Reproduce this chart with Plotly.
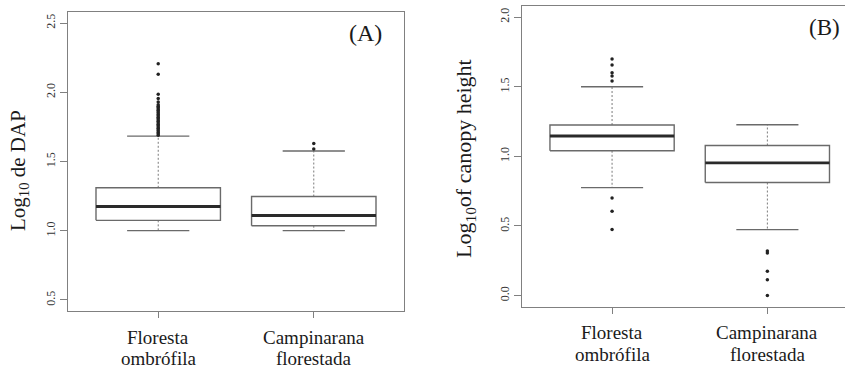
import plotly.graph_objects as go

W, H = 845, 371

# ---------------- data ----------------
cat_line1 = ["Floresta", "Campinarana"]
cat_line2 = ["ombrófila", "florestada"]
positions = [1, 2]

# Panel A: Log10 de DAP
dap_q1 = [1.075, 1.036]
dap_med = [1.175, 1.110]
dap_q3 = [1.310, 1.247]
dap_lo = [1.000, 1.000]
dap_hi = [1.683, 1.576]
dap_out_flor = [1.69, 1.70, 1.71, 1.72, 1.73, 1.74, 1.75, 1.76, 1.77, 1.78, 1.79,
                1.80, 1.81, 1.82, 1.83, 1.84, 1.85, 1.86, 1.87, 1.88, 1.89, 1.90,
                1.91, 1.93, 1.955, 1.985, 2.13, 2.207]
dap_out_camp = [1.59, 1.63]
dap_ticks = [0.5, 1.0, 1.5, 2.0, 2.5]

# Panel B: Log10 of canopy height
can_q1 = [1.040, 0.812]
can_med = [1.146, 0.953]
can_q3 = [1.225, 1.078]
can_lo = [0.776, 0.473]
can_hi = [1.500, 1.227]
can_out_flor = [0.475, 0.605, 0.700, 1.542, 1.578, 1.600, 1.657, 1.700]
can_out_camp = [0.000, 0.113, 0.175, 0.305, 0.320]
can_ticks = [0.0, 0.5, 1.0, 1.5, 2.0]

# ---------------- style ----------------
FONT = "Liberation Serif"
BOXC = "#6a6a6a"
MEDC = "#2a2a2a"
WHC = "#7a7a7a"
FRAME = "#808080"
HALF_BOX = 0.4
HALF_CAP = 0.2

fig = go.Figure()


def add_panel(xa, ya, q1, med, q3, lo, hi, outs):
    for i, p in enumerate(positions):
        # whiskers (dashed)
        fig.add_trace(go.Scatter(x=[p, p, None, p, p], y=[q3[i], hi[i], None, q1[i], lo[i]],
                                 mode="lines", line=dict(color=WHC, width=1, dash="2px,2px"),
                                 xaxis=xa, yaxis=ya, hoverinfo="skip", showlegend=False))
        # caps
        fig.add_trace(go.Scatter(x=[p - HALF_CAP, p + HALF_CAP, None, p - HALF_CAP, p + HALF_CAP],
                                 y=[hi[i], hi[i], None, lo[i], lo[i]],
                                 mode="lines", line=dict(color=BOXC, width=1.3),
                                 xaxis=xa, yaxis=ya, hoverinfo="skip", showlegend=False))
        # box
        fig.add_trace(go.Scatter(x=[p - HALF_BOX, p + HALF_BOX, p + HALF_BOX, p - HALF_BOX, p - HALF_BOX],
                                 y=[q1[i], q1[i], q3[i], q3[i], q1[i]],
                                 mode="lines", line=dict(color=BOXC, width=1.4),
                                 fill="toself", fillcolor="white",
                                 xaxis=xa, yaxis=ya, hoverinfo="skip", showlegend=False))
        # median
        fig.add_trace(go.Scatter(x=[p - HALF_BOX, p + HALF_BOX], y=[med[i], med[i]],
                                 mode="lines", line=dict(color=MEDC, width=2.8),
                                 xaxis=xa, yaxis=ya, hoverinfo="skip", showlegend=False))
        # outliers
        fig.add_trace(go.Scatter(x=[p] * len(outs[i]), y=outs[i], mode="markers",
                                 marker=dict(color="#222222", size=3.5),
                                 xaxis=xa, yaxis=ya, hoverinfo="skip", showlegend=False))


add_panel("x", "y", dap_q1, dap_med, dap_q3, dap_lo, dap_hi, [dap_out_flor, dap_out_camp])
add_panel("x2", "y2", can_q1, can_med, can_q3, can_lo, can_hi, [can_out_flor, can_out_camp])


def px_x(v):
    return v / W


def px_y(v):
    return 1 - v / H


axis_common = dict(showgrid=False, zeroline=False, showline=True, linecolor=FRAME, linewidth=1.2,
                   ticks="outside", tickcolor=FRAME, tickwidth=1)

fig.update_layout(
    width=W, height=H, margin=dict(l=0, r=0, t=0, b=0),
    paper_bgcolor="white", plot_bgcolor="white",
    font=dict(family=FONT, color="#222222"),
    xaxis=dict(domain=[px_x(68), px_x(404)], range=[0.42, 2.58], tickvals=positions,
               showticklabels=False, ticklen=6, mirror=True, **axis_common),
    yaxis=dict(domain=[px_y(311), px_y(12)], range=[0.42, 2.58], tickvals=dap_ticks,
               ticktext=[f"{t:.1f}" for t in dap_ticks], tickangle=-90, ticklen=7,
               tickfont=dict(size=12, color="#333333", family=FONT), mirror=True, **axis_common),
    xaxis2=dict(domain=[px_x(522), 1.0], range=[0.42, 0.42 + (845 - 522) / 155.3], tickvals=positions,
                showticklabels=False, ticklen=6, mirror=True, anchor="y2", **axis_common),
    yaxis2=dict(domain=[px_y(306.7), px_y(6)], range=[-0.08, 2.08], tickvals=can_ticks,
                ticktext=[f"{t:.1f}" for t in can_ticks], tickangle=-90, ticklen=7,
                tickfont=dict(size=12, color="#333333", family=FONT), mirror=False,
                anchor="x2", **axis_common),
)

ann = []
# category labels
for i, p in enumerate(positions):
    ann.append(dict(x=p, xref="x", y=px_y(337), yref="paper", text=cat_line1[i], showarrow=False,
                    xanchor="center", yanchor="middle", font=dict(size=19, family=FONT, color="#1a1a1a")))
    ann.append(dict(x=p, xref="x", y=px_y(358), yref="paper", text=cat_line2[i], showarrow=False,
                    xanchor="center", yanchor="middle", font=dict(size=19, family=FONT, color="#1a1a1a")))
    ann.append(dict(x=p, xref="x2", y=px_y(332), yref="paper", text=cat_line1[i], showarrow=False,
                    xanchor="center", yanchor="middle", font=dict(size=19, family=FONT, color="#1a1a1a")))
    ann.append(dict(x=p, xref="x2", y=px_y(354), yref="paper", text=cat_line2[i], showarrow=False,
                    xanchor="center", yanchor="middle", font=dict(size=19, family=FONT, color="#1a1a1a")))

# axis titles
ann.append(dict(x=px_x(19), y=px_y(171), xref="paper", yref="paper", text="Log<sub>10</sub> de DAP",
                textangle=-90, showarrow=False, xanchor="center", yanchor="middle",
                font=dict(size=21, family=FONT, color="#1a1a1a")))
ann.append(dict(x=px_x(465), y=px_y(159), xref="paper", yref="paper", text="Log<sub>10</sub>of canopy height",
                textangle=-90, showarrow=False, xanchor="center", yanchor="middle",
                font=dict(size=22, family=FONT, color="#1a1a1a")))
# panel letters
ann.append(dict(x=px_x(365), y=px_y(33), xref="paper", yref="paper", text="(A)", showarrow=False,
                xanchor="center", yanchor="middle", font=dict(size=24, family=FONT, color="#1a1a1a")))
ann.append(dict(x=px_x(842), y=px_y(27), xref="paper", yref="paper", text="(B)", showarrow=False,
                xanchor="right", yanchor="middle", font=dict(size=23, family=FONT, color="#1a1a1a")))

fig.update_layout(annotations=ann)

fig.write_html("out.html")
